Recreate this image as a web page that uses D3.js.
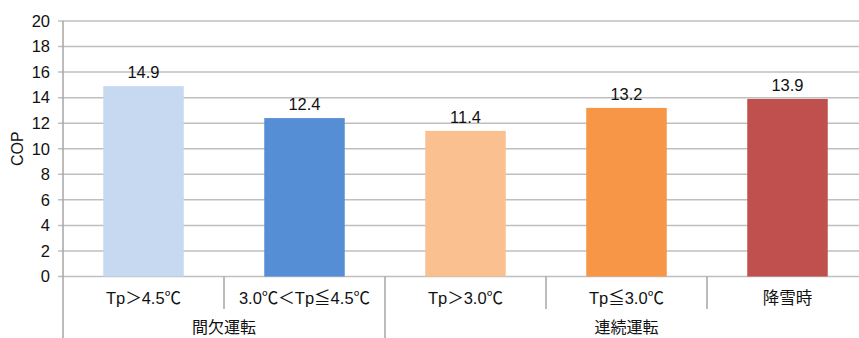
<html>
<head>
<meta charset="utf-8">
<title>COP</title>
<style>
  body { margin: 0; background: #fff; }
  text { font-family: "Liberation Sans", Arial, "Noto Sans CJK JP", sans-serif; fill: #111; }
</style>
</head>
<body>
<script src="https://cdn.jsdelivr.net/npm/d3@7/dist/d3.min.js"></script>
<script>
var categories = ["Tp＞4.5℃", "3.0℃＜Tp≦4.5℃", "Tp＞3.0℃", "Tp≦3.0℃", "降雪時"];
var values = [14.9, 12.4, 11.4, 13.2, 13.9];
var colors = ["#c6d9f1", "#558ed5", "#fac090", "#f79646", "#c0504d"];
var groups = [["間欠運転", 2], ["連続運転", 3]];  // label, number of categories
var yTicks = [0, 2, 4, 6, 8, 10, 12, 14, 16, 18, 20];

var width = 859, height = 338;
var plotLeft = 63, plotTop = 21, plotBottom = 276.5;
var band = 161;

var svg = d3.select("body").append("svg")
  .attr("width", width)
  .attr("height", height);

var x = d3.scaleBand()
  .domain(categories)
  .range([plotLeft, plotLeft + band * categories.length])
  .paddingInner(0.5)
  .paddingOuter(0.25);

var y = d3.scaleLinear().domain([0, 20]).range([plotBottom, plotTop]);

// grid lines
svg.selectAll(".grid")
  .data(yTicks)
  .enter().append("line")
  .attr("x1", plotLeft - 5)
  .attr("x2", width)
  .attr("y1", function(d) { return y(d); })
  .attr("y2", function(d) { return y(d); })
  .attr("stroke", "#bfbfbf")
  .attr("stroke-width", 1.5);

// y tick labels
svg.selectAll(".ytick")
  .data(yTicks)
  .enter().append("text")
  .attr("x", plotLeft - 13)
  .attr("y", function(d) { return y(d); })
  .attr("dy", "0.35em")
  .attr("text-anchor", "end")
  .style("font-size", "16.5px")
  .text(function(d) { return d; });

svg.append("text")
  .attr("transform", "translate(23," + ((plotTop + plotBottom) / 2) + ") rotate(-90)")
  .attr("text-anchor", "middle")
  .style("font-size", "16px")
  .text("COP");

// bars
svg.selectAll(".bar")
  .data(values)
  .enter().append("rect")
  .attr("x", function(d, i) { return x(categories[i]); })
  .attr("width", x.bandwidth())
  .attr("y", function(d) { return y(d); })
  .attr("height", function(d) { return plotBottom - y(d); })
  .attr("fill", function(d, i) { return colors[i]; });

svg.selectAll(".val")
  .data(values)
  .enter().append("text")
  .attr("x", function(d, i) { return x(categories[i]) + x.bandwidth() / 2; })
  .attr("y", function(d) { return y(d) - 8; })
  .attr("text-anchor", "middle")
  .style("font-size", "16.5px")
  .text(function(d) { return d.toFixed(1); });

// y axis line
svg.append("line")
  .attr("x1", plotLeft).attr("x2", plotLeft)
  .attr("y1", plotTop).attr("y2", height)
  .attr("stroke", "#a6a6a6").attr("stroke-width", 1.5);

// category dividers
var idx = 0, groupStarts = [0];
groups.forEach(function(g) { idx += g[1]; groupStarts.push(idx); });
for (var i = 1; i < categories.length; i++) {
  var xi = plotLeft + band * i;
  var isGroup = groupStarts.indexOf(i) >= 0;
  svg.append("line")
    .attr("x1", xi).attr("x2", xi)
    .attr("y1", plotBottom).attr("y2", isGroup ? height : 309)
    .attr("stroke", "#a6a6a6").attr("stroke-width", 1.5);
}

// category labels
svg.selectAll(".cat")
  .data(categories)
  .enter().append("text")
  .attr("x", function(d) { return x(d) + x.bandwidth() / 2; })
  .attr("y", 304)
  .attr("text-anchor", "middle")
  .style("font-size", "16.5px")
  .text(function(d) { return d; });

// group labels
groups.forEach(function(g, k) {
  var x0 = plotLeft + band * groupStarts[k];
  var x1 = plotLeft + band * groupStarts[k + 1];
  svg.append("text")
    .attr("x", (x0 + x1) / 2)
    .attr("y", 333)
    .attr("text-anchor", "middle")
    .style("font-size", "16px")
    .style("font-family", "'Noto Sans CJK JP', sans-serif")
    .text(g[0]);
});
</script>
</body>
</html>
